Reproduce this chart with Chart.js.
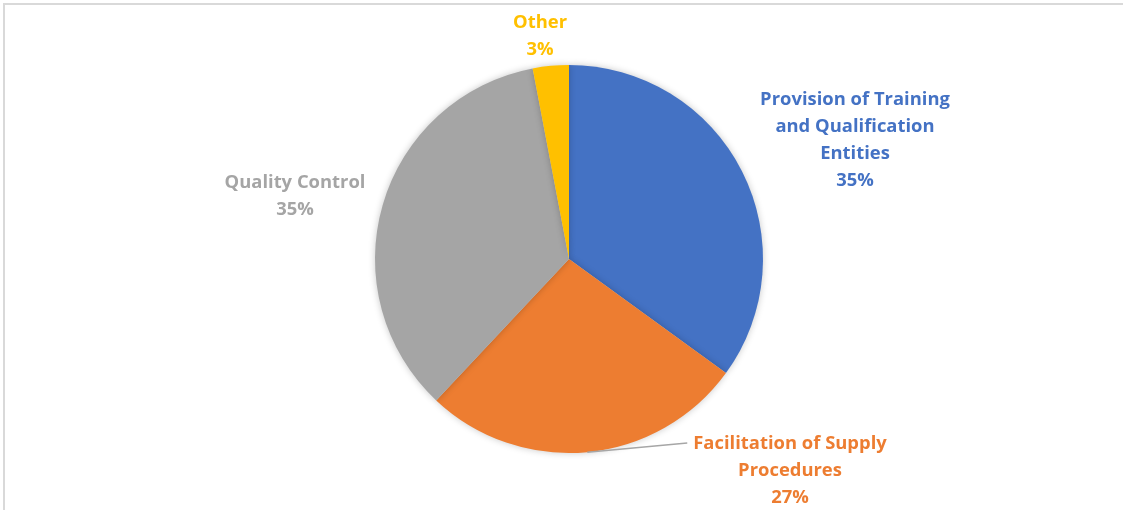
<!DOCTYPE html>
<html>
<head>
<meta charset="utf-8">
<script src="https://cdn.jsdelivr.net/npm/chart.js@4"></script>
<style>
  html, body { margin: 0; padding: 0; background: #fff; }
  #wrap { position: relative; width: 1123px; height: 510px; }
  #frame { position: absolute; left: 3px; top: 3px; width: 1130px; height: 520px;
           border-left: 2px solid #d9d9d9; border-top: 2px solid #d9d9d9; }
</style>
</head>
<body>
<div id="wrap">
  <div id="frame"></div>
  <canvas id="pieChart" width="1123" height="510"></canvas>
</div>
<script>
// Shares by category
const categories = ['Provision of Training and Qualification Entities', 'Facilitation of Supply Procedures', 'Quality Control', 'Other'];
const shares = [35, 27, 35, 3];
const percentLabels = ['35%', '27%', '35%', '3%'];
const labelLines = [
    ['Provision of Training', 'and Qualification', 'Entities'],
    ['Facilitation of Supply', 'Procedures'],
    ['Quality Control'],
    ['Other']
];
const colors = ['#4472C4', '#ED7D31', '#A5A5A5', '#FFC000'];

// where each label block is centred (first line), and which ones get a leader line
const labelAnchors = [[855, 100], [790, 444], [295, 183], [540, 23]];
const leaders = [false, true, false, false];

const shadowPlugin = {
    id: 'shadow',
    beforeDatasetDraw(chart) {
        const ctx = chart.ctx;
        ctx.save();
        ctx.shadowColor = 'rgba(0,0,0,0.22)';
        ctx.shadowBlur = 7;
    },
    afterDatasetDraw(chart) {
        chart.ctx.restore();
    }
};

const labelPlugin = {
    id: 'pieLabels',
    afterDatasetsDraw(chart) {
        const ctx = chart.ctx;
        const arcs = chart.getDatasetMeta(0).data;
        ctx.save();
        ctx.font = 'bold 18.4px "Open Sans"';
        ctx.letterSpacing = '0.01px'; // keeps "fi" from joining
        ctx.textAlign = 'center';
        ctx.textBaseline = 'middle';
        arcs.forEach((arc, i) => {
            const lines = labelLines[i].concat([percentLabels[i]]);
            const [x, y] = labelAnchors[i];
            if (leaders[i]) {
                const mid = (arc.startAngle + arc.endAngle) / 2;
                const sx = arc.x + Math.cos(mid) * arc.outerRadius;
                const sy = arc.y + Math.sin(mid) * arc.outerRadius;
                const w = ctx.measureText(lines[0]).width;
                ctx.strokeStyle = '#A6A6A6';
                ctx.lineWidth = 1.5;
                ctx.beginPath();
                ctx.moveTo(sx, sy);
                ctx.lineTo(x - w / 2 - 6, y - 1);
                ctx.stroke();
            }
            ctx.fillStyle = colors[i];
            lines.forEach((t, k) => ctx.fillText(t, x, y + k * 27));
        });
        ctx.restore();
    }
};

const ctx = document.getElementById('pieChart').getContext('2d');
const pieChart = new Chart(ctx, {
    type: 'pie',
    data: {
        labels: categories,
        datasets: [{
            data: shares,
            backgroundColor: colors,
            borderWidth: 0
        }]
    },
    options: {
        responsive: false,
        animation: false,
        layout: { padding: { left: 375, right: 360, top: 65, bottom: 57 } },
        plugins: {
            legend: { display: false },
            tooltip: { enabled: false }
        }
    },
    plugins: [shadowPlugin, labelPlugin]
});
</script>
</body>
</html>
